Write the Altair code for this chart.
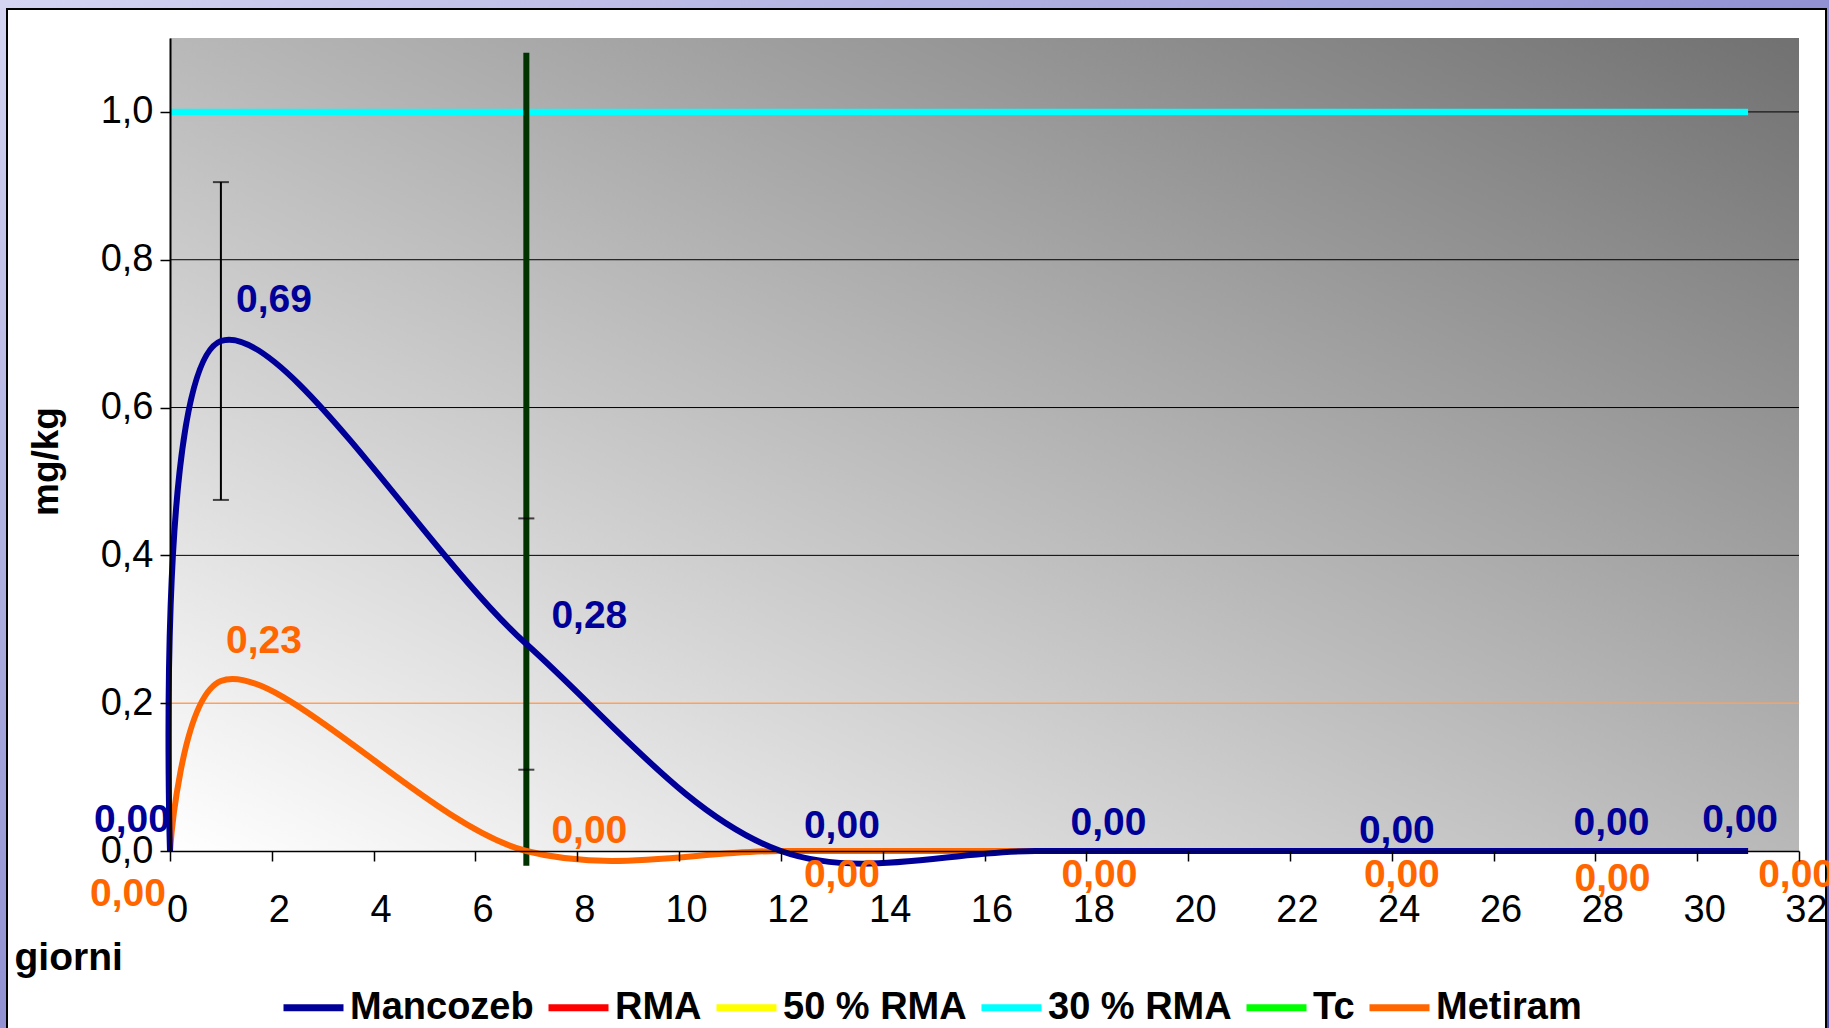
import altair as alt
import pandas as pd

# Residue decay (mg/kg) over days after treatment
days = [0, 1, 7, 12, 17, 23, 27, 31]
mancozeb = [0.00, 0.69, 0.28, 0.00, 0.00, 0.00, 0.00, 0.00]
metiram = [0.00, 0.23, 0.00, 0.00, 0.00, 0.00, 0.00, 0.00]

# Mancozeb standard deviation at the sampled days that carry one
err_days = [1, 7]
err_mancozeb = [0.215, 0.17]

# 30 % of the maximum residue limit, drawn across the observed period
rma30_days = [0, 31]
rma30 = [1.0, 1.0]

# Pre-harvest interval (Tc) marker
tc_day = 7
tc_span = [-0.02, 1.08]

series_names = ["Mancozeb", "RMA", "50 % RMA", "30 % RMA", "Tc", "Metiram"]
series_colors = ["#000099", "#FF0000", "#FFFF00", "#00FFFF", "#00FF00", "#FF6600"]

y_ticks = [0.0, 0.2, 0.4, 0.6, 0.8, 1.0]
x_ticks = list(range(0, 33, 2))

FONT = "Liberation Sans"
W, H = 1629, 813
PAD_L, PAD_T, PAD_R, PAD_B = 170, 38, 30, 177

lines_df = pd.concat([
    pd.DataFrame({"day": days, "value": mancozeb, "serie": "Mancozeb"}),
    pd.DataFrame({"day": days, "value": metiram, "serie": "Metiram"}),
    pd.DataFrame({"day": rma30_days, "value": rma30, "serie": "30 % RMA"}),
], ignore_index=True)

man_lookup = dict(zip(days, mancozeb))
err_df = pd.DataFrame({
    "day": err_days,
    "lo": [man_lookup[d] - e for d, e in zip(err_days, err_mancozeb)],
    "hi": [man_lookup[d] + e for d, e in zip(err_days, err_mancozeb)],
})

x_scale = alt.Scale(domain=[0, 32], nice=False, zero=False)
y_scale = alt.Scale(domain=[0, 1.1], nice=False, zero=False)
color_scale = alt.Scale(domain=series_names, range=series_colors)

x_axis = alt.Axis(
    values=x_ticks, title="giorni", grid=False, zindex=1,
    labelFont=FONT, labelFontSize=38, labelColor="black", labelPadding=30,
    labelOffset=7, labelFlush=False,
    tickColor="black", tickSize=10, tickWidth=1.5,
    domainColor="black", domainWidth=1.5,
    titleFont=FONT, titleFontSize=39, titleFontWeight="bold", titleColor="black",
    titleX=-156, titleY=106, titleAlign="left", titleBaseline="middle",
)
y_axis = alt.Axis(
    values=y_ticks, title="mg/kg", grid=False, zindex=1,
    labelExpr="replace(format(datum.value, '.1f'), '.', ',')",
    labelFont=FONT, labelFontSize=38, labelColor="black", labelPadding=7,
    labelFlush=False,
    tickColor="black", tickSize=10, tickWidth=1.5,
    domainColor="black", domainWidth=2,
    titleFont=FONT, titleFontSize=37, titleFontWeight="bold", titleColor="black",
    titleX=-124, titleY=423, titleAngle=270, titleAlign="center", titleBaseline="middle",
)


def X(field):
    return alt.X(field, type="quantitative", scale=x_scale, axis=x_axis)


def Y(field):
    return alt.Y(field, type="quantitative", scale=y_scale, axis=y_axis)


# Slide backdrop and the white chart panel with its black border
slide_gradient = alt.LinearGradient(
    gradient="linear",
    stops=[alt.GradientStop(color="#d4d4f2", offset=0),
           alt.GradientStop(color="#4e4eb4", offset=1)],
    x1=0, y1=0, x2=1, y2=1,
)
slide = alt.Chart(pd.DataFrame({"k": [0]})).mark_rect(fill=slide_gradient, clip=False).encode(
    x=alt.value(-PAD_L), x2=alt.value(W + PAD_R),
    y=alt.value(-PAD_T), y2=alt.value(H + PAD_B),
)
panel = alt.Chart(pd.DataFrame({"k": [0]})).mark_rect(
    fill="white", stroke="black", strokeWidth=2, clip=False
).encode(
    x=alt.value(-PAD_L + 7), x2=alt.value(W + PAD_R - 3),
    y=alt.value(-PAD_T + 9), y2=alt.value(H + PAD_B + 20),
)

# Plot-area background: light lower-left fading to dark grey upper-right
plot_gradient = alt.LinearGradient(
    gradient="linear",
    stops=[alt.GradientStop(color="#ffffff", offset=0),
           alt.GradientStop(color="#717171", offset=1)],
    x1=0, y1=1, x2=1, y2=0,
)
bg = alt.Chart(pd.DataFrame({"day": [0], "day2": [32], "value": [0.0], "value2": [1.1]})).mark_rect(
    fill=plot_gradient
).encode(x=X("day"), x2="day2", y=Y("value"), y2="value2")

grid = alt.Chart(pd.DataFrame({"value": y_ticks[2:]})).mark_rule(
    color="black", strokeWidth=1
).encode(y=Y("value"))

grid_02 = alt.Chart(pd.DataFrame({"value": [y_ticks[1]]})).mark_rule(
    color="#FF9F5F", strokeWidth=1.5
).encode(y=Y("value"))

err_rule = alt.Chart(err_df).mark_rule(color="black", strokeWidth=2, clip=False).encode(
    x=X("day"), y=Y("lo"), y2="hi"
)
err_caps = alt.Chart(err_df).transform_fold(["lo", "hi"], as_=["end", "v"]).mark_tick(
    color="black", orient="horizontal", size=16, thickness=2
).encode(x=X("day"), y=Y("v"))

color_enc = alt.Color(
    "serie:N", scale=color_scale, sort=None,
    legend=alt.Legend(
        title=None, orient="none", legendX=110, legendY=936, direction="horizontal",
        columns=6, labelFont=FONT, labelFontSize=38, labelFontWeight="bold",
        labelColor="black", symbolType="stroke", symbolSize=3600,
        symbolStrokeWidth=7, labelOffset=3, columnPadding=0, labelLimit=0,
    ),
)


def series_line(name, width):
    return alt.Chart(lines_df).transform_filter(alt.datum.serie == name).mark_line(
        interpolate="catmull-rom", strokeWidth=width, clip=False
    ).encode(x=X("day"), y=Y("value"), color=color_enc)


tc_line = alt.Chart(pd.DataFrame({"day": [tc_day], "lo": [tc_span[0]], "hi": [tc_span[1]]})).mark_rule(
    color="#003300", strokeWidth=6, clip=False
).encode(x=X("day"), y=Y("lo"), y2="hi")

# Value labels, each nudged beside its point
label_offsets = {
    ("Mancozeb", 0): (-38, -31), ("Mancozeb", 1): (53, -41), ("Mancozeb", 7): (63, -28),
    ("Mancozeb", 12): (61, -25), ("Mancozeb", 17): (73, -28), ("Mancozeb", 23): (56, -20),
    ("Mancozeb", 27): (67, -28), ("Mancozeb", 31): (-8, -31),
    ("Metiram", 0): (-42, 43), ("Metiram", 1): (43, -40), ("Metiram", 7): (63, -20),
    ("Metiram", 12): (61, 24), ("Metiram", 17): (64, 24), ("Metiram", 23): (61, 24),
    ("Metiram", 27): (68, 28), ("Metiram", 31): (48, 24),
}
label_color = dict(zip(series_names, series_colors))

label_layers = []
for (name, d), (dx, dy) in label_offsets.items():
    label_layers.append(
        alt.Chart(lines_df).transform_filter(
            (alt.datum.serie == name) & (alt.datum.day == d)
        ).transform_calculate(
            lbl="replace(format(datum.value, '.2f'), '.', ',')"
        ).mark_text(
            font=FONT, fontSize=39, fontWeight="bold", color=label_color[name],
            dx=dx, dy=dy, align="center", baseline="middle", clip=False
        ).encode(x=X("day"), y=Y("value"), text="lbl:N")
    )

chart = alt.layer(
    slide, panel, bg, grid, grid_02, err_rule,
    series_line("30 % RMA", 6.5), tc_line, err_caps,
    series_line("Metiram", 6), series_line("Mancozeb", 6),
    *label_layers,
).properties(
    width=W, height=H,
    padding={"left": PAD_L, "top": PAD_T, "right": PAD_R, "bottom": PAD_B},
    autosize=alt.AutoSizeParams(type="none"),
    background="white",
).configure_view(
    stroke="#888888", strokeWidth=2
)

chart.save("out.html", embed_options={"renderer": "svg", "actions": False})
